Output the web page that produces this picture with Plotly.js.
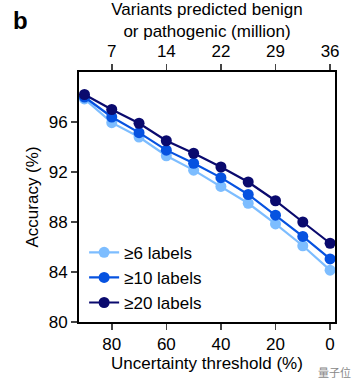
<!DOCTYPE html>
<html><head><meta charset="utf-8">
<script src="https://cdn.plot.ly/plotly-3.0.1.min.js"></script>
<style>html,body{margin:0;padding:0;background:#fff;}#chart{width:362px;height:388px;}</style>
</head><body><div id="chart"></div>
<script>
const thresholds = [90, 80, 70, 60, 50, 40, 30, 20, 10, 0];
const labels6  = [97.85, 95.95, 94.8, 93.3, 92.15, 90.85, 89.5, 87.85, 86.1, 84.15];
const labels10 = [98.0, 96.4, 95.15, 93.75, 92.7, 91.55, 90.2, 88.55, 86.85, 85.05];
const labels20 = [98.2, 97.0, 95.9, 94.5, 93.5, 92.4, 91.2, 89.7, 88.0, 86.3];
const seriesNames = ['≥6 labels', '≥10 labels', '≥20 labels'];
const seriesColors = ['#7dbdff', '#0652e0', '#0a0a6e'];
const topTickVals = [80, 60, 40, 20, 0];
const topTickText = ['7', '14', '22', '29', '36'];

const font = 'Liberation Sans, Arial, Helvetica, sans-serif';
const series = [labels6, labels10, labels20];
const traces = series.map((ys, i) => ({
  x: thresholds, y: ys, type: 'scatter', mode: 'lines+markers',
  name: seriesNames[i],
  line: {color: seriesColors[i], width: 2.2},
  marker: {color: seriesColors[i], size: 11},
  cliponaxis: false
}));
traces.push({x: thresholds, y: labels20, xaxis: 'x2', type: 'scatter', mode: 'markers',
  marker: {opacity: 0}, showlegend: false, hoverinfo: 'skip'});

const layout = {
  width: 362, height: 388,
  margin: {l: 79, r: 27, t: 72, b: 66},
  paper_bgcolor: '#fff', plot_bgcolor: '#fff',
  font: {family: font, size: 17, color: '#000'},
  showlegend: true,
  legend: {x: 0.02, y: 0.005, xanchor: 'left', yanchor: 'bottom', bgcolor: 'rgba(0,0,0,0)',
    font: {family: font, size: 17, color: '#000'}, tracegroupgap: 0, itemwidth: 30},
  xaxis: {range: [92, -1.8], tickvals: [80, 60, 40, 20, 0], ticks: 'outside', ticklen: 6, tickwidth: 1.5,
    showline: true, linewidth: 2, linecolor: '#000', showgrid: false, zeroline: false,
    tickfont: {size: 17}, title: {text: 'Uncertainty threshold (%)', font: {size: 17}, standoff: 4}},
  xaxis2: {overlaying: 'x', side: 'top', range: [92, -1.8], tickvals: topTickVals, ticktext: topTickText,
    ticks: 'outside', ticklen: 6, tickwidth: 1.5, showline: true, linewidth: 2, linecolor: '#000',
    showgrid: false, zeroline: false, tickfont: {size: 17},
    title: {text: 'Variants predicted benign<br>or pathogenic (million)', font: {size: 17}, standoff: 2}},
  yaxis: {range: [80, 100], tickvals: [80, 84, 88, 92, 96], ticks: 'outside', ticklen: 6, tickwidth: 1.5,
    showline: true, mirror: true, linewidth: 2, linecolor: '#000', showgrid: false, zeroline: false,
    tickfont: {size: 17}, title: {text: 'Accuracy (%)', font: {size: 17}, standoff: 6}},
  annotations: [
    {text: '<b>b</b>', xref: 'paper', yref: 'paper', x: -0.265, y: 1.205, xanchor: 'left', yanchor: 'middle',
      showarrow: false, font: {size: 24, family: font, color: '#000'}},
    {text: '量子位', xref: 'paper', yref: 'paper', x: 1.07, y: -0.2, xanchor: 'right', yanchor: 'middle',
      showarrow: false, font: {size: 11, family: 'Noto Sans CJK SC', color: '#888'}}
  ]
};
Plotly.newPlot('chart', traces, layout, {displayModeBar: false, staticPlot: true});
</script></body></html>
